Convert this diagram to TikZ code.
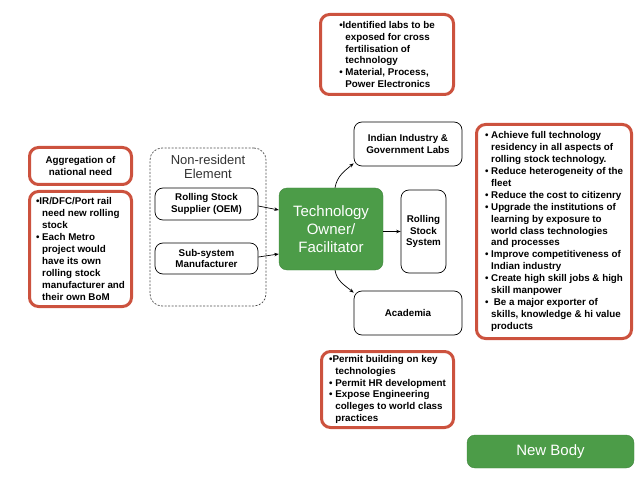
\documentclass[tikz,border=0pt]{standalone}
\usepackage{fontspec}
\setmainfont{Liberation Sans}
\usetikzlibrary{arrows.meta}

\definecolor{notered}{RGB}{204,82,62}
\definecolor{bodygreen}{RGB}{76,156,72}
\newcommand{\bul}{\textbullet\ }
\newcommand{\ind}{\hphantom{\textbullet\ }}

\begin{document}
\begin{tikzpicture}[x=1pt, y=1pt,
		note/.style={draw=notered, line width=3pt, rounded corners=9pt, align=left, inner sep=0pt,
			font=\fontsize{9.8}{11.9}\selectfont\bfseries},
		unit/.style={draw, line width=0.7pt, rounded corners=8pt, align=center, inner sep=2pt,
			font=\fontsize{9.8}{11.9}\selectfont\bfseries},
		owner/.style={fill=bodygreen, draw=bodygreen!85!black, rounded corners=8pt, text=white, align=center,
			font=\fontsize{15}{18}\selectfont},
		flow/.style={-{Stealth[length=4.5pt, width=3.5pt]}, line width=0.7pt}]
			
			\useasboundingbox (0,0) rectangle (640,480);
			
			% Left column: national need
			\node[note, align=center, minimum width=102pt, minimum height=37pt] (agg) at (80.5,314) {Aggregation of\\national need};
			\node[note, minimum width=102pt, minimum height=115pt] (need) at (80.5,231)
				{\textbullet IR/DFC/Port rail\\ \ind need new rolling\\ \ind stock\\ \bul Each Metro\\ \ind project would\\ \ind have its own\\ \ind rolling stock\\ \ind manufacturer and\\ \ind their own BoM};
			
			% Non-resident element
			\node[draw=black!70, dashed, dash pattern=on 2pt off 1.5pt, line width=0.7pt, rounded corners=12pt,
				minimum width=116pt, minimum height=158pt] (nonres) at (208,253) {};
			\node[align=center, text=black!80, font=\fontsize{13}{14}\selectfont] (nrtitle) at (208,313) {Non-resident\\Element};
			\node[unit, minimum width=103pt, minimum height=32pt] (oem) at (206.5,276) {Rolling Stock\\Supplier (OEM)};
			\node[unit, minimum width=103pt, minimum height=31pt] (sub) at (206.5,221.5) {Sub-system\\Manufacturer};
			
			% Technology owner
			\node[owner, minimum width=104pt, minimum height=82pt] (tech) at (331,251) {Technology\\Owner/\\Facilitator};
			\node[unit, minimum width=45pt, minimum height=83pt] (rss) at (423.5,248.5) {Rolling\\Stock\\System};
			\node[unit, minimum width=108pt, minimum height=44pt] (ind) at (408,336) {Indian Industry \&\\Government Labs};
			\node[unit, minimum width=108pt, minimum height=44pt] (acad) at (408,167) {Academia};
			
			% Notes
			\node[note, minimum width=133pt, minimum height=80pt] (labs) at (387,425.5)
				{\textbullet Identified labs to be\\ \ind exposed for cross\\ \ind fertilisation of\\ \ind technology\\ \bul Material, Process,\\ \ind Power Electronics};
			\node[note, minimum width=155pt, minimum height=214pt] (goals) at (554,248.5)
				{\bul Achieve full technology\\ \ind residency in all aspects of\\ \ind rolling stock technology.\\
				 \bul Reduce heterogeneity of the\\ \ind fleet\\ \bul Reduce the cost to citizenry\\
				 \bul Upgrade the institutions of\\ \ind learning by exposure to\\ \ind world class technologies\\ \ind and processes\\
				 \bul Improve competitiveness of\\ \ind Indian industry\\ \bul Create high skill jobs \& high\\ \ind skill manpower\\
				 \bul\ Be a major exporter of\\ \ind skills, knowledge \& hi value\\ \ind products};
			\node[note, minimum width=132pt, minimum height=76pt] (permit) at (387.5,90.5)
				{\textbullet Permit building on key\\ \ind technologies\\ \bul Permit HR development\\ \bul Expose Engineering\\ \ind colleges to world class\\ \ind practices};
			\node[owner, minimum width=167pt, minimum height=33pt] (newbody) at (550.5,28.5) {New Body};
			
			% Draw connectors
			\draw[flow] ([yshift=-2pt]oem.east) -- ([yshift=19pt]tech.west);
			\draw[flow] ([yshift=1.5pt]sub.east) -- ([yshift=-25pt]tech.west);
			\draw[flow] (tech.east |- rss.west) -- (rss.west);
			\draw[flow] ([xshift=4pt]tech.north) to[out=80, in=-140] ([yshift=3pt]ind.south west);
			\draw[flow] ([xshift=4pt]tech.south) to[out=-80, in=140] ([yshift=-2pt]acad.north west);
	\end{tikzpicture}
\end{document}
